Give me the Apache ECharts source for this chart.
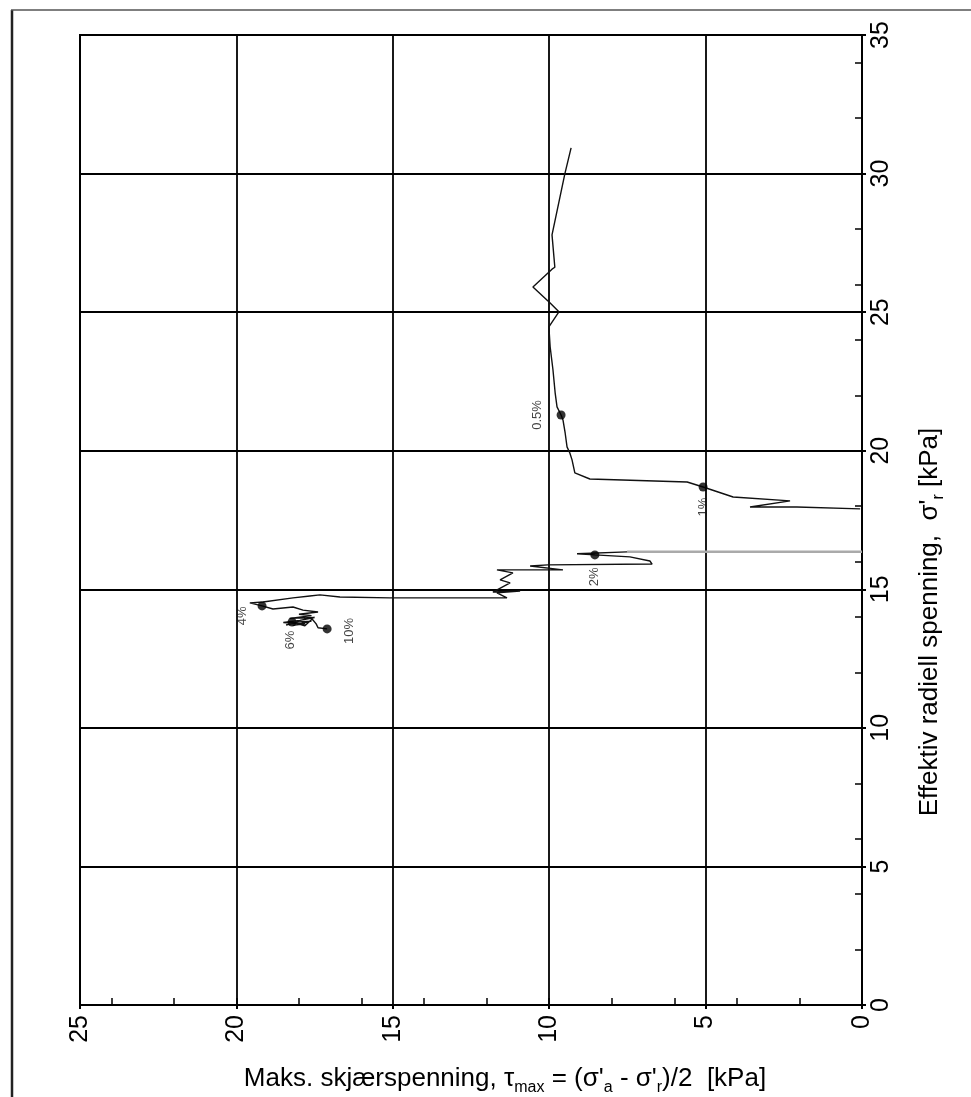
<!DOCTYPE html>
<html>
<head>
<meta charset="utf-8">
<script src="https://cdn.jsdelivr.net/npm/echarts@6/dist/echarts.min.js"></script>
<style>
html, body { margin: 0; padding: 0; background: #fff; }
#chart { width: 971px; height: 1097px; }
</style>
</head>
<body>
<div id="chart"></div>
<script>
// spenningssti før hoppet ved tau = 0
const upperTau = [9.30, 9.50, 9.91, 9.82, 9.91, 10.52, 9.97, 9.69, 10.01, 9.97, 9.88, 9.81, 9.75, 9.62,
  9.56, 9.49, 9.43, 9.34, 9.27, 9.18, 8.70, 5.59, 5.08, 4.12, 2.30, 3.58, 2.08, 0.06];
const upperSigma = [30.93, 29.99, 27.79, 26.62, 26.55, 25.91, 25.33, 25.01, 24.47, 23.75, 22.92, 22.09, 21.58, 21.29,
  21.11, 20.64, 20.14, 19.92, 19.67, 19.20, 18.98, 18.87, 18.69, 18.33, 18.19, 17.97, 17.97, 17.90];

// grå linje (hopp)
const jumpTau = [0, 7.51];
const jumpSigma = [16.35, 16.35];

// spenningssti etter hoppet
const lowerTau = [7.51, 9.11, 8.54, 7.42, 6.78, 6.71, 10.04, 10.61, 9.56, 11.67, 11.16, 11.57, 11.25, 11.80,
  10.93, 11.67, 11.35, 15.09, 16.69, 17.33, 17.65, 18.19, 19.15, 19.57, 19.18, 18.83, 18.19, 17.87,
  17.39, 18.00, 17.60, 18.30, 17.50, 17.97, 18.50, 17.80, 18.20, 17.60, 18.03, 18.41, 18.22, 17.81,
  17.58, 17.45, 17.39, 17.10];
const lowerSigma = [16.35, 16.28, 16.24, 16.17, 16.02, 15.91, 15.88, 15.84, 15.70, 15.70, 15.59, 15.34, 15.23, 14.90,
  14.94, 14.87, 14.69, 14.69, 14.72, 14.80, 14.76, 14.69, 14.54, 14.51, 14.40, 14.29, 14.36, 14.25,
  14.18, 14.10, 14.05, 13.95, 13.98, 13.88, 13.80, 13.75, 13.70, 13.85, 13.82, 13.71, 13.82, 13.68,
  13.93, 13.75, 13.61, 13.57];

// tøyningsmarkører
const strainLabels = ['0.5%', '1%', '2%', '4%', '6%', '10%'];
const strainTau = [9.62, 5.08, 8.54, 19.18, 18.22, 17.10];
const strainSigma = [21.29, 18.69, 16.24, 14.40, 13.82, 13.57];

// etikettplassering i skjermpiksler [dx, dy]
const labelShift = {
  '0.5%': [-24, 0], '1%': [0, 20], '2%': [0, 22],
  '4%': [-20, 10], '6%': [-2, 18], '10%': [22, 2]
};

const FONT = 'Liberation Sans, Arial, sans-serif';
const zip = (a, b) => a.map((v, i) => [v, b[i]]);

const chart = echarts.init(document.getElementById('chart'));

const markData = strainLabels.map((name, i) => {
  const s = labelShift[name];
  return {
    value: [strainTau[i], strainSigma[i]],
    label: {
      show: true,
      formatter: name,
      position: 'inside',
      rotate: 90,
      // offset ligger i den roterte rammen
      offset: [-s[1], s[0]]
    }
  };
});

const option = {
  animation: false,
  backgroundColor: '#fff',
  textStyle: { fontFamily: FONT },
  grid: {
    left: 80, right: 109, top: 35, bottom: 92,
    show: true, borderColor: '#000', borderWidth: 2, backgroundColor: 'transparent'
  },
  xAxis: [
    {
      type: 'value', min: 0, max: 25, interval: 5, inverse: true, position: 'bottom',
      axisLine: { show: true, lineStyle: { color: '#000', width: 2 } },
      axisTick: { show: true, inside: false, length: 4, lineStyle: { color: '#000', width: 2 } },
      axisLabel: { rotate: 90, fontSize: 25, color: '#000', margin: 10, fontFamily: FONT },
      splitLine: { show: true, lineStyle: { color: '#000', width: 1.8 } }
    },
    {
      type: 'value', min: 0, max: 25, interval: 2, inverse: true, position: 'bottom',
      axisLine: { show: false },
      axisTick: { show: true, inside: true, length: 7, lineStyle: { color: '#000', width: 1.5 } },
      axisLabel: { show: false },
      splitLine: { show: false }
    }
  ],
  yAxis: [
    {
      type: 'value', min: 0, max: 35, interval: 5, position: 'right',
      axisLine: { show: true, lineStyle: { color: '#000', width: 2 } },
      axisTick: { show: true, inside: false, length: 4, lineStyle: { color: '#000', width: 2 } },
      axisLabel: { rotate: 90, fontSize: 25, color: '#000', margin: 7, fontFamily: FONT },
      splitLine: { show: true, lineStyle: { color: '#000', width: 1.8 } }
    },
    {
      type: 'value', min: 0, max: 35, interval: 2, position: 'right',
      axisLine: { show: false },
      axisTick: { show: true, inside: true, length: 7, lineStyle: { color: '#000', width: 1.5 } },
      axisLabel: { show: false },
      splitLine: { show: false }
    }
  ],
  series: [
    {
      type: 'line', xAxisIndex: 0, yAxisIndex: 0,
      data: zip(jumpTau, jumpSigma),
      showSymbol: false, lineStyle: { color: '#aaa', width: 2.5 }, z: 3
    },
    {
      type: 'line', xAxisIndex: 0, yAxisIndex: 0,
      data: zip(upperTau, upperSigma),
      showSymbol: false, lineStyle: { color: '#111', width: 1.4 }, z: 4
    },
    {
      type: 'line', xAxisIndex: 0, yAxisIndex: 0,
      data: zip(lowerTau, lowerSigma),
      showSymbol: false, lineStyle: { color: '#111', width: 1.4 }, z: 4
    },
    {
      type: 'scatter', xAxisIndex: 0, yAxisIndex: 0,
      data: markData,
      symbol: 'circle', symbolSize: 9,
      itemStyle: { color: '#000' },
      label: { fontSize: 13, color: '#111', fontFamily: FONT },
      z: 5
    }
  ],
  graphic: [
    {
      type: 'line', shape: { x1: 12, y1: 10, x2: 12, y2: 1097 },
      style: { stroke: '#222', lineWidth: 2.5 }
    },
    {
      type: 'line', shape: { x1: 11, y1: 10, x2: 971, y2: 10 },
      style: { stroke: '#555', lineWidth: 1.5 }
    },
    {
      type: 'text', x: 505, y: 1079,
      style: {
        text: "Maks. skjærspenning, τ{sub|max} = (σ'{sub|a} - σ'{sub|r})/2  [kPa]",
        font: '26px ' + FONT, fill: '#000',
        textAlign: 'center', textVerticalAlign: 'middle',
        rich: {
          sub: { fontSize: 16, lineHeight: 34, verticalAlign: 'bottom', fontFamily: FONT }
        }
      }
    },
    {
      type: 'text', x: 930, y: 622, rotation: Math.PI / 2,
      style: {
        text: "Effektiv radiell spenning,  σ'{sub|r} [kPa]",
        font: '26px ' + FONT, fill: '#000',
        textAlign: 'center', textVerticalAlign: 'middle',
        rich: {
          sub: { fontSize: 16, lineHeight: 34, verticalAlign: 'bottom', fontFamily: FONT }
        }
      }
    }
  ]
};

chart.setOption(option);
</script>
</body>
</html>
